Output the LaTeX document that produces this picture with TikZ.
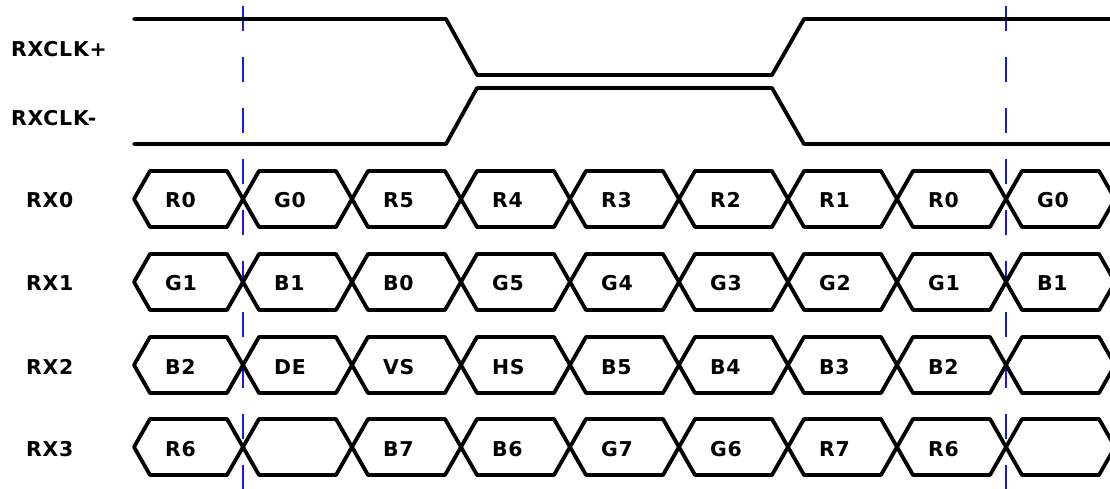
\documentclass[tikz,border=0pt]{standalone}
\usepackage{fontspec}
\setmainfont{DejaVu Sans}[LetterSpace=4]
\definecolor{markblue}{HTML}{1A1AE6}
\tikzset{
  every node/.style={font=\fontsize{20.5}{22}\selectfont\bfseries,text height=15bp,text depth=0pt,
    inner sep=0pt,outer sep=0pt,anchor=west},
  wave/.style={line width=3.8bp,line join=round,line cap=round},
  sample/.style={draw=markblue,line width=1.2bp,dash pattern=on 25bp off 26bp}
}
\begin{document}
\begin{tikzpicture}[x=1bp,y=-1bp]

\path[use as bounding box] (0,0) rectangle (1110,489);
\clip (0,0) rectangle (1110,489);
% sampling marks under the waves
\foreach \x in {243,1006}
 \draw[sample] (\x,6) -- (\x,489);

% clock pair
\draw[wave] (134,19) -- (446,19) -- (477,75) -- (772,75) -- (804,19) -- (1120,19);
\draw[wave] (134,144) -- (446,144) -- (477,88) -- (772,88) -- (804,144) -- (1120,144);
\node (clkp) at (11,49.5) {RXCLK+};
\node (clkn) at (11,118.5) {RXCLK-};

% data lanes, one bit every 109bp
\foreach \row/\y in {0/199,1/282,2/365,3/447}{
 \node (rx\row) at (26,\y+1.5) {RX\row};
 \foreach \i in {0,...,8}{
  \pgfmathsetmacro{\xa}{134+109*\i}
  \pgfmathsetmacro{\xb}{\xa+109}
  \draw[wave] (\xa,\y) -- (\xa+16,\y-28) -- (\xb-16,\y-28) -- (\xb,\y)
   -- (\xb-16,\y+28) -- (\xa+16,\y+28) -- cycle;
 }
}
\foreach \i/\t in {0/R0,1/G0,2/R5,3/R4,4/R3,5/R2,6/R1,7/R0,8/G0}
 \node (a\i) at (165+109*\i,200.5) {\t};
\foreach \i/\t in {0/G1,1/B1,2/B0,3/G5,4/G4,5/G3,6/G2,7/G1,8/B1}
 \node (b\i) at (165+109*\i,283.5) {\t};
\foreach \i/\t in {0/B2,1/DE,2/VS,3/HS,4/B5,5/B4,6/B3,7/B2}
 \node (c\i) at (165+109*\i,366.5) {\t};
\foreach \i/\t in {0/R6,2/B7,3/B6,4/G7,5/G6,6/R7,7/R6}
 \node (d\i) at (165+109*\i,448.5) {\t};
\end{tikzpicture}
\end{document}
